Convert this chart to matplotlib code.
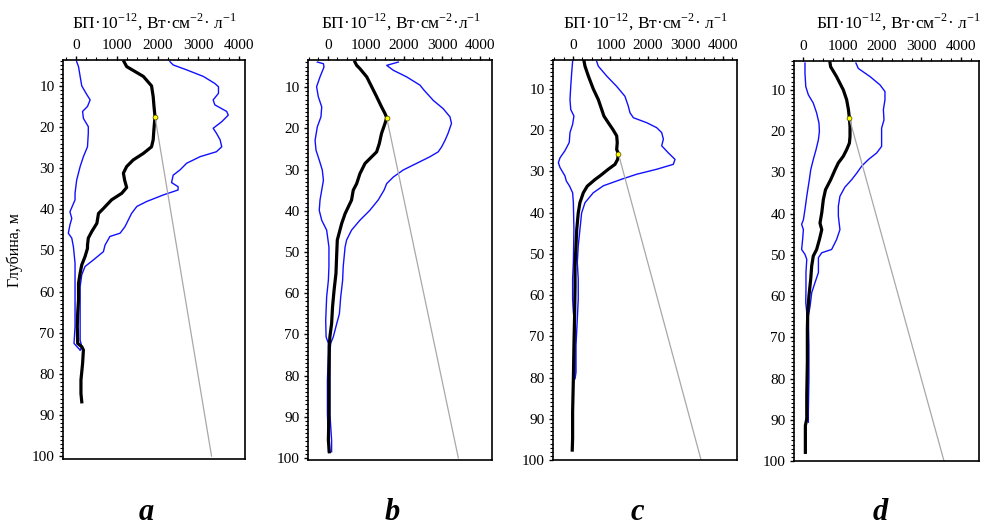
import matplotlib
matplotlib.use('Agg')
import matplotlib.pyplot as plt
from matplotlib.ticker import MultipleLocator

plt.rcParams['font.family'] = 'Liberation Serif'
plt.rcParams['mathtext.fontset'] = 'custom'
plt.rcParams['mathtext.rm'] = 'Liberation Serif'

# panel a
a_mean_z = [4.1, 5.3, 7.7, 10, 12.6, 15.0, 17.5, 20.3, 23.1, 24.8, 26.4, 28.0, 29.6, 31.2, 32.9, 34.7, 36.1, 37.7, 39.8, 41.0, 43.4, 45.4, 47.0, 48.7, 49.5, 51.5, 53.5, 55.5, 58.0, 62.0, 65.3, 68.5, 72.6, 73.4, 74.2, 77.5, 81.5, 84.8, 86.8]
a_mean = [1175, 1240, 1650, 1850, 1890, 1910, 1935, 1910, 1890, 1850, 1650, 1400, 1240, 1160, 1190, 1240, 1120, 870, 670, 550, 510, 385, 300, 280, 280, 220, 140, 100, 60, 60, 40, 30, 40, 140, 180, 160, 120, 120, 140]
a_min_z = [4.1, 5.3, 7.7, 10, 11.8, 13.4, 15.0, 16.2, 17.9, 19.9, 21.5, 24.8, 27.2, 29.6, 32.9, 36.1, 37.7, 40.6, 42.2, 43.8, 45.8, 47.0, 49.1, 53.1, 58.8, 63.7, 68.5, 72.6, 73.8, 74.2]
a_min = [15, 60, 100, 140, 245, 345, 280, 160, 180, 300, 300, 280, 180, 100, 15, -25, -25, -150, -105, -150, -190, -105, -65, -25, -25, -25, -25, -50, 60, 100]
a_max_z = [4.1, 4.9, 6.1, 7.7, 9.4, 10.2, 11.8, 13.4, 14.6, 16.2, 17.1, 18.7, 20.3, 21.5, 23.1, 24.8, 26.0, 27.2, 28.8, 30.4, 31.7, 33.5, 34.5, 35.3, 36.5, 38.1, 39.3, 41.0, 42.6, 44.2, 45.8, 46.6, 48.7, 50.3, 52.3, 53.9, 55.9, 58.8, 63.7, 68.5, 71.8, 73.4, 74.2]
a_max = [2300, 2380, 2710, 3120, 3400, 3490, 3490, 3360, 3400, 3690, 3730, 3570, 3360, 3440, 3530, 3570, 3440, 3040, 2710, 2550, 2380, 2340, 2500, 2500, 2140, 1730, 1490, 1360, 1280, 1200, 1080, 830, 710, 670, 425, 220, 140, 100, 100, 100, 100, 140, 100]
a_peak = (1935, 17.5)
a_line_end = (3320, 100)

# panel b
b_mean_z = [3.9, 4.7, 5.5, 7.5, 9.9, 12.3, 14.8, 16.4, 17.4, 18.8, 21.2, 23.7, 25.7, 26.9, 28.5, 31.0, 33.4, 35.0, 37.4, 40.7, 43.1, 47.1, 50.4, 55.2, 59.3, 63.3, 67.4, 70.6, 73.0, 81.1, 89.2, 95.7, 98.5]
b_mean = [710, 755, 840, 1020, 1150, 1280, 1410, 1500, 1545, 1500, 1410, 1350, 1280, 1150, 975, 840, 755, 665, 620, 450, 360, 245, 230, 210, 160, 120, 95, 50, 35, 25, 25, 10, 35]
b_min_z = [3.9, 4.3, 5.1, 7.5, 9.9, 12.3, 14.8, 17.2, 19.6, 22.9, 25.3, 27.7, 30.1, 32.6, 35.0, 37.4, 39.9, 42.3, 44.7, 48.8, 53.6, 56.9, 60.9, 66.6, 70.6, 72.2, 74.6, 81.1, 89.2, 95.7, 98.5]
b_min = [-280, -120, -105, -210, -300, -255, -165, -185, -280, -340, -315, -230, -150, -120, -165, -210, -230, -165, -35, 25, 25, 10, -35, -60, -50, 10, 10, -15, -15, 10, 10]
b_max_z = [3.9, 4.7, 5.9, 7.5, 9.5, 10.7, 13.2, 15.2, 17.2, 18.8, 21.2, 22.9, 24.5, 25.7, 26.9, 28.5, 30.1, 31.8, 33.4, 35.0, 37.4, 39.9, 42.3, 44.7, 47.1, 48.8, 53.6, 56.9, 60.9, 65.0, 67.4, 70.6, 72.2, 74.6, 81.1, 89.2, 95.7, 98.5]
b_max = [1850, 1545, 1720, 2070, 2420, 2525, 2770, 3030, 3210, 3250, 3160, 3080, 2990, 2900, 2680, 2330, 1980, 1720, 1545, 1475, 1320, 1100, 840, 620, 490, 450, 400, 385, 335, 300, 230, 140, 70, 50, 50, 50, 95, 95]
b_peak = (1545, 17.4)
b_line_end = (3430, 100)

# panel c
c_mean_z = [3.3, 4.5, 6.9, 10, 12.6, 15.0, 16.6, 18.2, 19.8, 21.4, 23.0, 24.7, 25.7, 27.1, 28.3, 29.5, 31.1, 32.0, 33.6, 35.2, 37.6, 40.1, 44.1, 48.1, 52.9, 57.8, 64.2, 72.2, 80.3, 88.3, 94.7, 97.6]
c_mean = [295, 320, 410, 540, 675, 765, 825, 940, 1060, 1165, 1180, 1165, 1210, 1190, 1120, 940, 720, 585, 380, 275, 185, 140, 100, 80, 55, 55, 45, 25, 10, -10, -10, -20]
c_min_z = [3.3, 6.1, 9.4, 12.6, 15.0, 16.6, 18.6, 20.6, 23.0, 25.0, 26.7, 27.9, 29.1, 31.1, 32.3, 33.6, 35.2, 37.6, 44.1, 52.1, 56.1, 61.0, 64.2, 67.4, 72.2, 78.7, 80.3]
c_min = [-10, -35, -60, -80, -60, 25, -10, -80, -100, -215, -345, -390, -345, -215, -180, -90, -10, 10, 25, 10, -10, -10, 10, 55, 55, 55, 25]
c_max_z = [3.3, 4.5, 6.9, 9.4, 11.8, 14.2, 15.8, 17.0, 18.2, 19.4, 20.6, 22.2, 23.8, 25.5, 27.1, 28.3, 29.5, 30.7, 31.9, 33.5, 35.2, 37.6, 40.1, 44.1, 48.1, 52.1, 56.1, 61.0, 65.8, 72.2, 78.7, 80.3]
c_max = [630, 675, 900, 1165, 1385, 1475, 1520, 1610, 1965, 2230, 2365, 2410, 2365, 2540, 2720, 2675, 2230, 1700, 1300, 810, 540, 320, 230, 185, 140, 115, 140, 140, 115, 80, 80, 55]
c_peak = (1210, 25.7)
c_line_end = (3415, 100)

# panel d
d_mean_z = [3.5, 4.4, 6.8, 10, 12.4, 14.8, 16.9, 18.9, 21.3, 22.9, 24.5, 26.1, 27.7, 29.4, 31.8, 34.2, 36.6, 39.8, 42.3, 43.9, 46.3, 48.7, 50.3, 52.7, 55.9, 60.0, 64.0, 68.0, 76.1, 84.1, 89.8, 91.4, 94.6, 97.9]
d_mean = [685, 700, 850, 1020, 1105, 1150, 1175, 1190, 1190, 1175, 1105, 1020, 895, 810, 700, 570, 515, 475, 430, 475, 415, 345, 260, 220, 195, 150, 120, 110, 110, 95, 95, 60, 60, 60]
d_min_z = [3.5, 6.0, 9.2, 11.2, 13.2, 15.6, 18.1, 20.1, 22.1, 24.5, 26.9, 29.4, 31.8, 35.8, 39.0, 41.5, 42.6, 43.9, 46.3, 48.7, 49.9, 51.1, 54.3, 58.3, 61.5, 64.0, 72.1, 80.1, 88.2, 90.6]
d_min = [50, 50, 70, 135, 260, 345, 405, 415, 390, 330, 260, 195, 160, 95, 50, 10, -35, 10, -10, -35, 50, 95, 75, 75, 70, 95, 120, 120, 110, 75]
d_max_z = [3.5, 4.8, 6.8, 8.8, 10.4, 12.4, 14.8, 17.3, 19.3, 21.7, 23.7, 25.3, 26.9, 28.5, 30.2, 31.8, 33.6, 35.8, 38.2, 40.6, 43.9, 46.3, 48.7, 49.5, 50.7, 54.3, 56.7, 59.2, 62.4, 64.8, 72.1, 80.1, 88.2, 90.6]
d_max = [1340, 1400, 1700, 1950, 2075, 2075, 2035, 2050, 1990, 1990, 1990, 1865, 1655, 1485, 1360, 1230, 1060, 935, 895, 895, 935, 850, 725, 475, 390, 390, 305, 220, 180, 135, 150, 150, 135, 135]
d_peak = (1175, 16.9)
d_line_end = (3570, 100)

titles = [r'БП·10$^{-12}$, Вт·см$^{-2}$· л$^{-1}$',
          r'БП·10$^{-12}$, Вт·см$^{-2}$·л$^{-1}$',
          r'БП·10$^{-12}$, Вт·см$^{-2}$· л$^{-1}$',
          r'БП·10$^{-12}$, Вт·см$^{-2}$· л$^{-1}$']
letters = ['a', 'b', 'c', 'd']

panels = [
	(a_mean_z, a_mean, a_min_z, a_min, a_max_z, a_max, a_peak, a_line_end),
	(b_mean_z, b_mean, b_min_z, b_min, b_max_z, b_max, b_peak, b_line_end),
	(c_mean_z, c_mean, c_min_z, c_min, c_max_z, c_max, c_peak, c_line_end),
	(d_mean_z, d_mean, d_min_z, d_min, d_max_z, d_max, d_peak, d_line_end),
]

W, H = 984, 527
# axes boxes in pixels: left, top, right, bottom
boxes = [(63, 60, 245, 459), (308, 60, 492, 460), (553, 60, 737, 460), (794, 61, 979, 461)]
xlims = [(-320, 4140), (-526, 4316), (-533, 4373), (-228, 4456)]
ylims = [(100.7, 3.7), (100.5, 3.4), (99.6, 3.0), (99.7, 3.0)]
title_x = [154, 401, 645, 898]
letter_x = [146, 392, 637, 880]

fig = plt.figure(figsize=(W / 100, H / 100), dpi=100)

for i, p in enumerate(panels):
	mz, mv, lz, lv, hz, hv, peak, lend = p
	l, t, r, b = boxes[i]
	ax = fig.add_axes([l / W, 1 - b / H, (r - l) / W, (b - t) / H])
	ax.plot(lv, lz, color='#1010ff', lw=1.0)
	ax.plot(hv, hz, color='#1010ff', lw=1.0)
	ax.plot(mv, mz, color='black', lw=2.3)
	ax.plot([peak[0], lend[0]], [peak[1], lend[1]], color='#a8a8a8', lw=0.9)
	ax.plot([peak[0]], [peak[1]], 'o', ms=3.5, mfc='yellow', mec='#444400', mew=0.5)

	ax.set_xlim(*xlims[i])
	ax.set_ylim(*ylims[i])
	ax.xaxis.tick_top()
	ax.set_xticks([0, 1000, 2000, 3000, 4000])
	ax.xaxis.set_minor_locator(MultipleLocator(250))
	ax.set_yticks(range(10, 101, 10))
	ax.yaxis.set_minor_locator(MultipleLocator(1))
	ax.tick_params(axis='both', which='major', direction='out', length=3, width=1, labelsize=11, pad=3)
	ax.tick_params(axis='both', which='minor', direction='out', length=2, width=0.8)
	ax.tick_params(axis='x', which='both', top=True, bottom=False)
	ax.tick_params(axis='y', which='both', left=True, right=False)
	for s in ax.spines.values():
		s.set_linewidth(1.2)

	fig.text(title_x[i] / W, 1 - 28 / H, titles[i], ha='center', va='baseline', fontsize=12.5)
	fig.text(letter_x[i] / W, 1 - 512 / H, letters[i], ha='center', va='center',
		fontsize=22, fontweight='bold', fontstyle='italic')

fig.text(15 / W, 1 - 250 / H, 'Глубина, м', rotation=90, ha='center', va='center', fontsize=11.5)

plt.savefig('out.png', dpi=100)
